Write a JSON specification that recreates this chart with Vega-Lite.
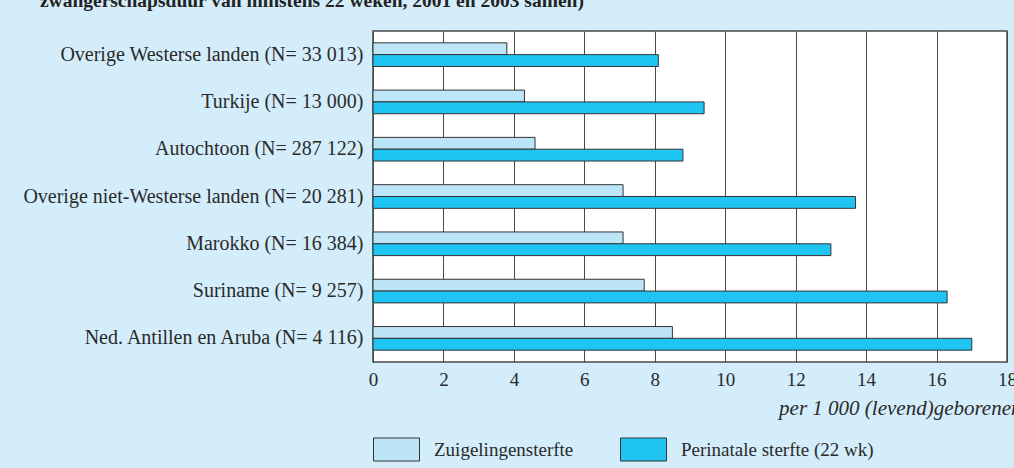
{
  "$schema": "https://vega.github.io/schema/vega-lite/v6.json",
  "autosize": {"type": "none"},
  "padding": {"left": 373, "top": 31, "right": 7, "bottom": 106},
  "width": 634,
  "height": 331,
  "background": "#d4edfa",
  "title": {
    "text": "zwangerschapsduur van minstens 22 weken, 2001 en 2003 samen)",
    "anchor": "start",
    "frame": "bounds",
    "orient": "top",
    "baseline": "alphabetic",
    "offset": 5,
    "dx": 17,
    "font": "Liberation Serif",
    "fontSize": 19.5,
    "fontWeight": "bold",
    "color": "#222222"
  },
  "data": {
    "values": [
      {"land": "Overige Westerse landen (N= 33 013)", "type": "Zuigelingensterfte", "value": 3.8},
      {"land": "Overige Westerse landen (N= 33 013)", "type": "Perinatale sterfte (22 wk)", "value": 8.1},
      {"land": "Turkije (N= 13 000)", "type": "Zuigelingensterfte", "value": 4.3},
      {"land": "Turkije (N= 13 000)", "type": "Perinatale sterfte (22 wk)", "value": 9.4},
      {"land": "Autochtoon (N= 287 122)", "type": "Zuigelingensterfte", "value": 4.6},
      {"land": "Autochtoon (N= 287 122)", "type": "Perinatale sterfte (22 wk)", "value": 8.8},
      {"land": "Overige niet-Westerse landen (N= 20 281)", "type": "Zuigelingensterfte", "value": 7.1},
      {"land": "Overige niet-Westerse landen (N= 20 281)", "type": "Perinatale sterfte (22 wk)", "value": 13.7},
      {"land": "Marokko (N= 16 384)", "type": "Zuigelingensterfte", "value": 7.1},
      {"land": "Marokko (N= 16 384)", "type": "Perinatale sterfte (22 wk)", "value": 13.0},
      {"land": "Suriname (N= 9 257)", "type": "Zuigelingensterfte", "value": 7.7},
      {"land": "Suriname (N= 9 257)", "type": "Perinatale sterfte (22 wk)", "value": 16.3},
      {"land": "Ned. Antillen en Aruba (N= 4 116)", "type": "Zuigelingensterfte", "value": 8.5},
      {"land": "Ned. Antillen en Aruba (N= 4 116)", "type": "Perinatale sterfte (22 wk)", "value": 17.0}
    ]
  },
  "mark": {"type": "bar", "stroke": "#333333", "strokeWidth": 1},
  "encoding": {
    "y": {
      "field": "land",
      "type": "nominal",
      "sort": null,
      "scale": {"paddingInner": 0.5, "paddingOuter": 0.25},
      "axis": {
        "title": null,
        "ticks": false,
        "domain": false,
        "labelPadding": 10,
        "labelFont": "Liberation Serif",
        "labelFontSize": 20,
        "labelColor": "#2a2a2a",
        "labelLimit": 400
      }
    },
    "yOffset": {
      "field": "type",
      "type": "nominal",
      "sort": ["Zuigelingensterfte", "Perinatale sterfte (22 wk)"],
      "scale": {"paddingInner": 0, "paddingOuter": 0}
    },
    "x": {
      "field": "value",
      "type": "quantitative",
      "scale": {"domain": [0, 18], "nice": false},
      "axis": {
        "values": [0, 2, 4, 6, 8, 10, 12, 14, 16, 18],
        "grid": true,
        "gridColor": "#4a4a4a",
        "gridWidth": 1,
        "gridOpacity": 1,
        "ticks": false,
        "domain": false,
        "labelPadding": 8,
        "labelFont": "Liberation Serif",
        "labelFontSize": 19,
        "labelColor": "#2a2a2a",
        "labelFlush": false,
        "title": "per 1 000 (levend)geborenen",
        "titleFont": "Liberation Serif",
        "titleFontStyle": "italic",
        "titleFontWeight": "normal",
        "titleFontSize": 21,
        "titleColor": "#2a2a2a",
        "titleAlign": "right",
        "titleAnchor": "end",
        "titleBaseline": "alphabetic",
        "titleX": 648,
        "titleY": 52
      }
    },
    "fill": {
      "field": "type",
      "type": "nominal",
      "sort": ["Zuigelingensterfte", "Perinatale sterfte (22 wk)"],
      "scale": {"domain": ["Zuigelingensterfte", "Perinatale sterfte (22 wk)"], "range": ["#bde5f8", "#1fc5f2"]},
      "legend": {
        "title": null,
        "orient": "none",
        "legendX": 0,
        "legendY": 395,
        "direction": "horizontal",
        "columns": 2,
        "symbolType": "M-1,-0.5H1V0.5H-1Z",
        "symbolSize": 2116,
        "symbolStrokeColor": "#333333",
        "symbolStrokeWidth": 1,
        "symbolOpacity": 1,
        "labelFont": "Liberation Serif",
        "labelFontSize": 19,
        "labelColor": "#2a2a2a",
        "labelOffset": 14,
        "columnPadding": 44,
        "labelLimit": 400
      }
    }
  },
  "config": {
    "view": {"fill": "white", "stroke": "#4a4a4a", "strokeWidth": 1.5}
  }
}
